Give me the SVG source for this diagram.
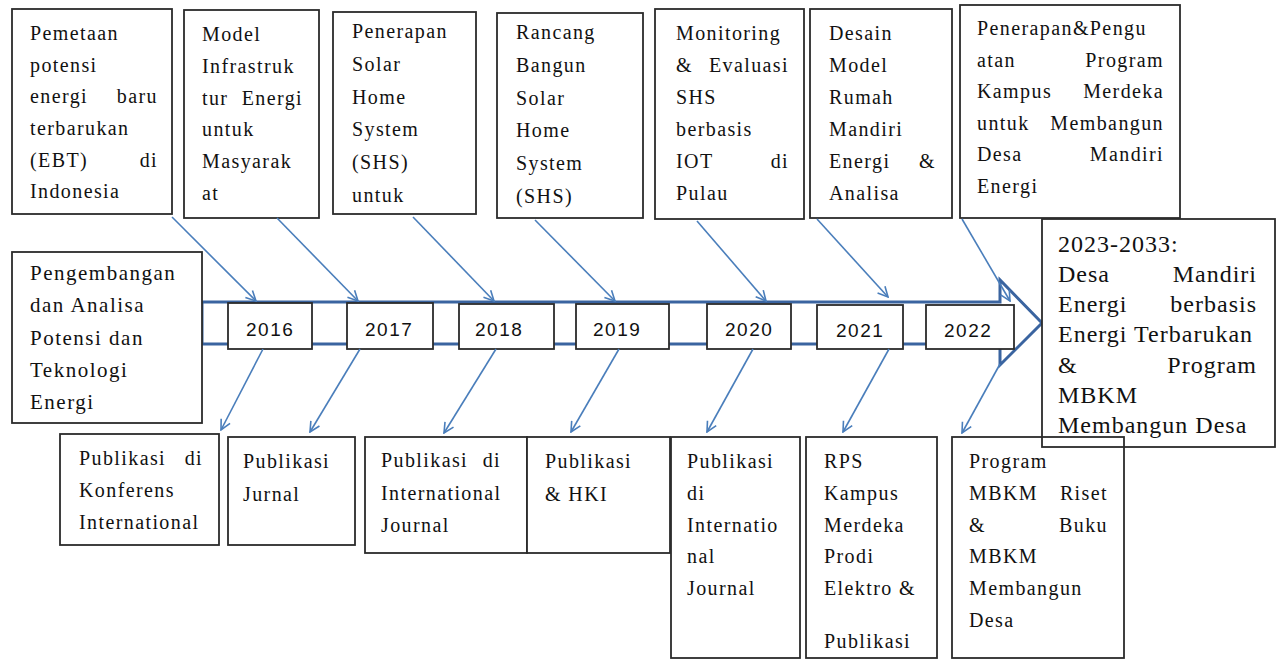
<svg xmlns="http://www.w3.org/2000/svg" width="1281" height="659" viewBox="0 0 1281 659">
<style>
.box{fill:#fff;stroke:#2b2b2b;stroke-width:1.8}
.nf{fill:none;stroke:#2b2b2b;stroke-width:1.8}
.t{font-family:"Liberation Serif","Times New Roman",serif;font-size:20px;letter-spacing:1.4px;fill:#111}
.tl{font-family:"Liberation Serif","Times New Roman",serif;font-size:21px;letter-spacing:1.5px;fill:#111}
.tb{font-family:"Liberation Serif","Times New Roman",serif;font-size:24px;letter-spacing:1px;fill:#111}
.e{text-anchor:end}
.yr{font-family:"Liberation Sans",Arial,sans-serif;font-size:19px;letter-spacing:1.5px;fill:#111}
.c{stroke:#4A7EBB;stroke-width:1.6;fill:none;marker-end:url(#ah)}
</style>
<defs>
<marker id="ah" viewBox="0 0 12 12" refX="11" refY="6" markerWidth="12" markerHeight="12" markerUnits="userSpaceOnUse" orient="auto">
<path d="M1,1 L11,6 L1,11" fill="none" stroke="#4A7EBB" stroke-width="1.6"/>
</marker>
</defs>
<rect width="1281" height="659" fill="#fff"/>

<!-- timeline band -->
<g id="timeline">
<path d="M202,302 H1000 V280 L1042,323 L1000,365 V344 H202 Z" fill="#fff" stroke="#3A64A0" stroke-width="3" stroke-linejoin="miter"/>
</g>

<!-- left box -->
<g id="n-left">
<rect class="box" x="12" y="252" width="190" height="171"/>
<text class="tl" x="30" y="280">Pengembangan</text>
<text class="tl" x="30" y="312">dan Analisa</text>
<text class="tl" x="30" y="345">Potensi dan</text>
<text class="tl" x="30" y="377">Teknologi</text>
<text class="tl" x="30" y="409">Energi</text>
</g>

<!-- year boxes -->
<g id="y2016"><rect class="box" x="228" y="303" width="84" height="46"/><text class="yr" x="246" y="336">2016</text></g>
<g id="y2017"><rect class="box" x="347" y="303" width="86" height="46"/><text class="yr" x="365" y="336">2017</text></g>
<g id="y2018"><rect class="box" x="459" y="304" width="95" height="45"/><text class="yr" x="475" y="336">2018</text></g>
<g id="y2019"><rect class="box" x="576" y="304" width="93" height="45"/><text class="yr" x="593" y="336">2019</text></g>
<g id="y2020"><rect class="box" x="707" y="304" width="84" height="45"/><text class="yr" x="725" y="336">2020</text></g>
<g id="y2021"><rect class="box" x="817" y="305" width="86" height="44"/><text class="yr" x="836" y="337">2021</text></g>
<g id="y2022"><rect class="box" x="926" y="305" width="88" height="44"/><text class="yr" x="944" y="337">2022</text></g>

<!-- top boxes -->
<g id="t1">
<rect class="box" x="12" y="9" width="160" height="205"/>
<text class="t" x="30" y="40">Pemetaan</text>
<text class="t" x="30" y="72">potensi</text>
<text class="t" x="30" y="103">energi</text><text class="t e" x="158" y="103">baru</text>
<text class="t" x="30" y="135">terbarukan</text>
<text class="t" x="30" y="167">(EBT)</text><text class="t e" x="158" y="167">di</text>
<text class="t" x="30" y="198">Indonesia</text>
</g>
<g id="t2">
<rect class="box" x="184" y="10" width="135" height="208"/>
<text class="t" x="202" y="41">Model</text>
<text class="t" x="202" y="73">Infrastruk</text>
<text class="t" x="202" y="105">tur</text><text class="t e" x="303" y="105">Energi</text>
<text class="t" x="202" y="136">untuk</text>
<text class="t" x="202" y="168">Masyarak</text>
<text class="t" x="202" y="200">at</text>
</g>
<g id="t3">
<rect class="box" x="333" y="12" width="143" height="202"/>
<text class="t" x="352" y="38">Penerapan</text>
<text class="t" x="352" y="71">Solar</text>
<text class="t" x="352" y="104">Home</text>
<text class="t" x="352" y="136">System</text>
<text class="t" x="352" y="169">(SHS)</text>
<text class="t" x="352" y="202">untuk</text>
</g>
<g id="t4">
<rect class="box" x="497" y="13" width="146" height="205"/>
<text class="t" x="516" y="39">Rancang</text>
<text class="t" x="516" y="72">Bangun</text>
<text class="t" x="516" y="105">Solar</text>
<text class="t" x="516" y="137">Home</text>
<text class="t" x="516" y="170">System</text>
<text class="t" x="516" y="203">(SHS)</text>
</g>
<g id="t5">
<rect class="box" x="655" y="9" width="149" height="210"/>
<text class="t" x="676" y="40">Monitoring</text>
<text class="t" x="676" y="72">&amp;</text><text class="t e" x="789" y="72">Evaluasi</text>
<text class="t" x="676" y="104">SHS</text>
<text class="t" x="676" y="136">berbasis</text>
<text class="t" x="676" y="168">IOT</text><text class="t e" x="789" y="168">di</text>
<text class="t" x="676" y="200">Pulau</text>
</g>
<g id="t6">
<rect class="box" x="810" y="9" width="142" height="209"/>
<text class="t" x="829" y="40">Desain</text>
<text class="t" x="829" y="72">Model</text>
<text class="t" x="829" y="104">Rumah</text>
<text class="t" x="829" y="136">Mandiri</text>
<text class="t" x="829" y="168">Energi</text><text class="t e" x="936" y="168">&amp;</text>
<text class="t" x="829" y="200">Analisa</text>
</g>
<g id="t7">
<rect class="box" x="960" y="5" width="220" height="213"/>
<text class="t" x="977" y="35">Penerapan&amp;Pengu</text>
<text class="t" x="977" y="67">atan</text><text class="t e" x="1164" y="67">Program</text>
<text class="t" x="977" y="98">Kampus</text><text class="t e" x="1164" y="98">Merdeka</text>
<text class="t" x="977" y="130">untuk</text><text class="t e" x="1164" y="130">Membangun</text>
<text class="t" x="977" y="161">Desa</text><text class="t e" x="1164" y="161">Mandiri</text>
<text class="t" x="977" y="193">Energi</text>
</g>

<!-- right box -->
<g id="n-right">
<rect class="box" x="1042" y="219" width="233" height="228"/>
<text class="tb" x="1058" y="252">2023-2033:</text>
<text class="tb" x="1058" y="282">Desa</text><text class="tb e" x="1257" y="282">Mandiri</text>
<text class="tb" x="1058" y="312">Energi</text><text class="tb e" x="1257" y="312">berbasis</text>
<text class="tb" x="1058" y="342">Energi Terbarukan</text>
<text class="tb" x="1058" y="373">&amp;</text><text class="tb e" x="1257" y="373">Program</text>
<text class="tb" x="1058" y="403">MBKM</text>
<text class="tb" x="1058" y="433">Membangun Desa</text>
</g>

<!-- bottom boxes -->
<g id="b1">
<rect class="box" x="60" y="434" width="159" height="111"/>
<text class="t" x="79" y="465">Publikasi</text><text class="t e" x="203" y="465">di</text>
<text class="t" x="79" y="497">Konferens</text>
<text class="t" x="79" y="529">International</text>
</g>
<g id="b2">
<rect class="box" x="228" y="437" width="127" height="108"/>
<text class="t" x="243" y="468">Publikasi</text>
<text class="t" x="243" y="501">Jurnal</text>
</g>
<g id="b3">
<rect class="box" x="365" y="437" width="162" height="116"/>
<text class="t" x="381" y="467">Publikasi</text><text class="t e" x="501" y="467">di</text>
<text class="t" x="381" y="500">International</text>
<text class="t" x="381" y="532">Journal</text>
</g>
<g id="b4">
<rect class="box" x="527" y="437" width="143" height="116"/>
<text class="t" x="545" y="468">Publikasi</text>
<text class="t" x="545" y="501">&amp; HKI</text>
</g>
<g id="b5">
<rect class="box" x="671" y="437" width="129" height="221"/>
<text class="t" x="687" y="468">Publikasi</text>
<text class="t" x="687" y="500">di</text>
<text class="t" x="687" y="532">Internatio</text>
<text class="t" x="687" y="563">nal</text>
<text class="t" x="687" y="595">Journal</text>
</g>
<g id="b6">
<rect class="box" x="806" y="437" width="131" height="221"/>
<text class="t" x="824" y="468">RPS</text>
<text class="t" x="824" y="500">Kampus</text>
<text class="t" x="824" y="532">Merdeka</text>
<text class="t" x="824" y="563">Prodi</text>
<text class="t" x="824" y="595">Elektro &amp;</text>
<text class="t" x="824" y="648">Publikasi</text>
</g>
<g id="b7">
<rect class="nf" x="952" y="437" width="172" height="221"/>
<text class="t" x="969" y="468">Program</text>
<text class="t" x="969" y="500">MBKM</text><text class="t e" x="1108" y="500">Riset</text>
<text class="t" x="969" y="532">&amp;</text><text class="t e" x="1108" y="532">Buku</text>
<text class="t" x="969" y="563">MBKM</text>
<text class="t" x="969" y="595">Membangun</text>
<text class="t" x="969" y="627">Desa</text>
</g>

<!-- connectors -->
<g id="connectors">
<line class="c" x1="172" y1="217" x2="256" y2="301"/>
<line class="c" x1="277" y1="218" x2="358" y2="301"/>
<line class="c" x1="413" y1="217" x2="494" y2="301"/>
<line class="c" x1="535" y1="220" x2="615" y2="301"/>
<line class="c" x1="697" y1="221" x2="766" y2="301"/>
<line class="c" x1="817" y1="219" x2="888" y2="297"/>
<line class="c" x1="962" y1="219" x2="1010" y2="301"/>
<line class="c" x1="263" y1="349" x2="221" y2="430"/>
<line class="c" x1="360" y1="349" x2="310" y2="432"/>
<line class="c" x1="496" y1="349" x2="444" y2="433"/>
<line class="c" x1="619" y1="349" x2="571" y2="432"/>
<line class="c" x1="753" y1="349" x2="707" y2="432"/>
<line class="c" x1="889" y1="349" x2="843" y2="432"/>
<line class="c" x1="1000" y1="364" x2="962" y2="433"/>
</g>
</svg>
